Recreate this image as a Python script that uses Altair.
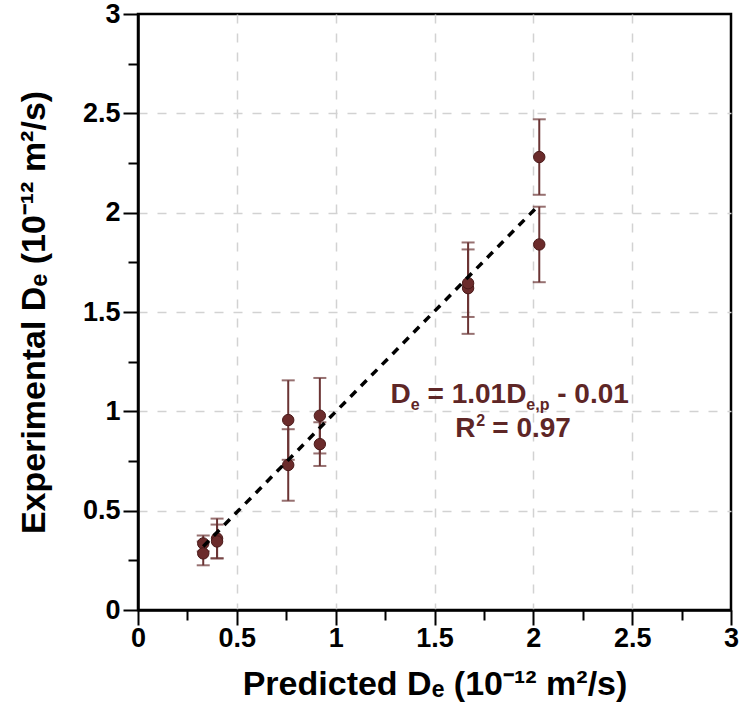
import altair as alt
import pandas as pd

# ---- data ----
predicted = [0.33, 0.33, 0.40, 0.40, 0.76, 0.76, 0.92, 0.92, 1.67, 1.67, 2.03, 2.03]
experimental = [0.335, 0.285, 0.36, 0.345, 0.956, 0.73, 0.978, 0.835, 1.62, 1.645, 2.28, 1.84]
error = [0.04, 0.06, 0.10, 0.085, 0.20, 0.18, 0.19, 0.11, 0.23, 0.17, 0.19, 0.19]

fit_x = [0.33, 2.03]
fit_y = [0.32, 2.04]

tick_values = [0, 0.25, 0.5, 0.75, 1, 1.25, 1.5, 1.75, 2, 2.25, 2.5, 2.75, 3]

eq_anchor_x = [1.278]
eq_anchor_y = [1.042]
r2_anchor_x = [1.605]
r2_anchor_y = [0.871]

pts = pd.DataFrame({"pred": predicted, "exp": experimental, "err": error})
fit = pd.DataFrame({"pred": fit_x, "exp": fit_y})
eq = pd.DataFrame({"pred": eq_anchor_x, "exp": eq_anchor_y})
r2 = pd.DataFrame({"pred": r2_anchor_x, "exp": r2_anchor_y})

FONT = "Liberation Sans"
POINT = "#6b2b2b"
BAR = "#6b3434"
TXT = "#5e2626"

minor = "datum.value % 0.5 != 0"
edge = "datum.value == 0 || datum.value == 3"


def make_axis(title, title_pad, label_pad):
    return alt.Axis(
        title=title,
        values=tick_values,
        format="~g",
        labelExpr="datum.value % 0.5 == 0 ? datum.label : ''",
        labelFont=FONT,
        labelFontSize=27,
        labelFontWeight="bold",
        labelColor="black",
        labelPadding=label_pad,
        labelFlush=False,
        labelOverlap=False,
        titleFont=FONT,
        titleFontSize=34,
        titleFontWeight="bold",
        titleColor="black",
        titlePadding=title_pad,
        domainColor="black",
        domainWidth=2.5,
        tickColor="black",
        tickWidth=2,
        tickSize={"condition": {"test": minor, "value": 10}, "value": 15},
        grid=True,
        gridColor="#d2d2d2",
        gridWidth=1.5,
        gridDash=[9, 10],
        gridOpacity={"condition": {"test": minor + " || " + edge, "value": 0}, "value": 1},
    )


xscale = alt.Scale(domain=[0, 3], nice=False, zero=False)
yscale = alt.Scale(domain=[0, 3], nice=False, zero=False)

x_axis = make_axis("Predicted Dₑ (10⁻¹² m²/s)", 16, 0)
y_axis = make_axis("Experimental Dₑ (10⁻¹² m²/s)", 31, 3)

x_enc = alt.X("pred:Q", scale=xscale, axis=x_axis)
y_enc = alt.Y("exp:Q", scale=yscale, axis=y_axis)

base = alt.Chart(pts)

bars = base.transform_calculate(
    lo="datum.exp - datum.err", hi="datum.exp + datum.err"
).mark_errorbar(ticks={"size": 13, "thickness": 2, "color": BAR}, thickness=2, color=BAR).encode(
    x=x_enc,
    y=alt.Y("lo:Q", scale=yscale, axis=y_axis),
    y2="hi:Q",
)

points = base.mark_point(filled=True, size=130, color=POINT, opacity=1, stroke="#4a1a1a", strokeWidth=1).encode(
    x=x_enc, y=y_enc
)

line = alt.Chart(fit).mark_line(color="black", strokeWidth=3.5, strokeDash=[8, 7]).encode(
    x=x_enc, y=y_enc
)


def piece(df, text, dx, dy, size):
    return alt.Chart(df).mark_text(
        text=text, align="left", baseline="alphabetic", dx=dx, dy=dy,
        font=FONT, fontSize=size, fontWeight="bold", color=TXT,
    ).encode(x=x_enc, y=y_enc)


labels = [
    piece(eq, "D", 0, 0, 28),
    piece(eq, "e", 20.2, 7, 16),
    piece(eq, "= 1.01D", 36.9, 0, 28),
    piece(eq, "e,p", 135.7, 7, 16),
    piece(eq, "- 0.01", 166.6, 0, 28),
    piece(r2, "R", 0, 0, 28),
    piece(r2, "2", 21, -11, 16),
    piece(r2, "= 0.97", 37, 0, 28),
]

chart = alt.layer(bars, points, line, *labels).properties(
    width=593,
    height=596,
    autosize=alt.AutoSizeParams(type="none"),
    padding={"left": 138, "top": 14, "right": 9, "bottom": 115},
    background="white",
).configure_view(stroke="black", strokeWidth=2.5)

chart.save("out.html", embed_options={"renderer": "svg", "actions": False})
